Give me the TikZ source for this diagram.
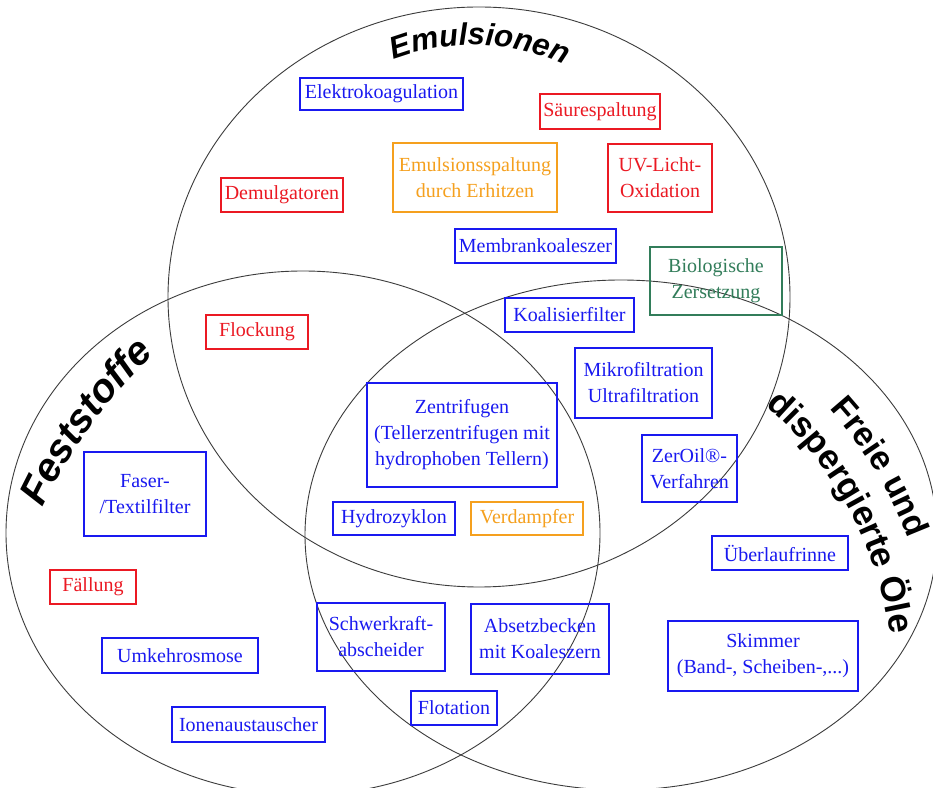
\documentclass[tikz,border=0pt]{standalone}
\usepackage{fontspec}
\setmainfont{Liberation Serif}
\newfontfamily\headfont{Liberation Sans}
\usetikzlibrary{decorations.text,shapes.geometric}

\definecolor{boxblue}{RGB}{25,25,240}
\definecolor{boxred}{RGB}{235,25,35}
\definecolor{boxorange}{RGB}{245,160,30}
\definecolor{boxgreen}{RGB}{50,125,90}
\definecolor{ringgray}{RGB}{60,60,60}

\tikzset{
  method/.style={draw, line width=1.3pt, inner sep=0pt, outer sep=0pt,
    align=center, font=\fontsize{20}{26}\selectfont},
  bluebox/.style={method, draw=boxblue, text=boxblue},
  redbox/.style={method, draw=boxred, text=boxred},
  orangebox/.style={method, draw=boxorange, text=boxorange},
  greenbox/.style={method, draw=boxgreen, text=boxgreen},
  ring/.style={ellipse, draw=ringgray, line width=0.9pt, inner sep=0pt, outer sep=0pt},
  arctext/.style={decorate, decoration={text along path, text align=center, text={#1}}}
}

\begin{document}
\begin{tikzpicture}[x=1pt,y=1pt]
  \useasboundingbox (0,0) rectangle (933,787);
  \fill[white] (0,0) rectangle (933,787);
  \clip (0,0) rectangle (933,787);

  % the three overlapping domains
  \node[ring, minimum width=622pt, minimum height=580pt] (emulsion) at (479,490) {};
  \node[ring, minimum width=594pt, minimum height=524pt] (solids) at (303,254) {};
  \node[ring, minimum width=632pt, minimum height=510pt] (oils) at (621,252) {};

  % curved domain titles
  \path[arctext={|\headfont\bfseries\itshape\fontsize{31}{31}\selectfont|Emulsionen}]
    (472,522) ++(130:220pt) arc[start angle=130, end angle=46, radius=220pt];
  \path[arctext={|\headfont\bfseries\itshape\fontsize{40}{40}\selectfont|Feststoffe}]
    (513,55) ++(170:521pt) arc[start angle=170, end angle=118, radius=521pt];
  \path[arctext={|\headfont\bfseries\fontsize{34}{34}\selectfont|Freie und}]
    (523.5,101.8) ++(55:412pt) arc[start angle=55, end angle=8, radius=412pt];
  \path[arctext={|\headfont\bfseries\fontsize{35}{35}\selectfont|dispergierte Öle}]
    (523.5,101.8) ++(60:370pt) arc[start angle=60, end angle=-3, radius=370pt];

  % separation methods
  \node[bluebox, minimum width=163pt, minimum height=32pt] (elektro) at (381.5,693) {Elektrokoagulation};
  \node[redbox, minimum width=120pt, minimum height=35pt] (saeure) at (600,675.5) {Säurespaltung};
  \node[orangebox, minimum width=164pt, minimum height=69pt] (erhitzen) at (475,609.5) {Emulsionsspaltung\\durch Erhitzen};
  \node[redbox, minimum width=104pt, minimum height=68pt] (uvlicht) at (660,609) {UV-Licht-\\Oxidation};
  \node[redbox, minimum width=122pt, minimum height=34pt] (demulg) at (282,592) {Demulgatoren};
  \node[bluebox, minimum width=161pt, minimum height=34pt] (membran) at (535.5,541) {Membrankoaleszer};
  \node[greenbox, minimum width=132pt, minimum height=68pt] (bio) at (716,506) {Biologische\\Zersetzung};
  \node[bluebox, minimum width=129pt, minimum height=34pt] (koalfilter) at (569.5,472) {Koalisierfilter};
  \node[redbox, minimum width=102pt, minimum height=34pt] (flockung) at (257,455) {Flockung};
  \node[bluebox, minimum width=137pt, minimum height=70pt] (mikro) at (643.5,404) {Mikrofiltration\\Ultrafiltration};
  \node[bluebox, minimum width=190pt, minimum height=104pt] (zentri) at (462,352) {Zentrifugen\\(Tellerzentrifugen mit\\hydrophoben Tellern)};
  \node[bluebox, minimum width=95pt, minimum height=67pt] (zeroil) at (689.5,318.5) {ZerOil®-\\Verfahren};
  \node[bluebox, minimum width=122pt, minimum height=84pt] (faser) at (145,293) {Faser-\\/Textilfilter};
  \node[bluebox, minimum width=122pt, minimum height=33pt] (hydro) at (394,268.5) {Hydrozyklon};
  \node[orangebox, minimum width=112pt, minimum height=33pt] (verdampfer) at (527,268.5) {Verdampfer};
  \node[bluebox, minimum width=136pt, minimum height=34pt] (ueberlauf) at (780,234) {Überlaufrinne};
  \node[redbox, minimum width=86pt, minimum height=34pt] (faellung) at (93,200) {Fällung};
  \node[bluebox, minimum width=128pt, minimum height=68pt] (schwerkraft) at (381,150) {Schwerkraft-\\abscheider};
  \node[bluebox, minimum width=138pt, minimum height=70pt] (absetz) at (540,148) {Absetzbecken\\mit Koaleszern};
  \node[bluebox, minimum width=190pt, minimum height=70pt] (skimmer) at (763,131) {Skimmer\\(Band-, Scheiben-,...)};
  \node[bluebox, minimum width=156pt, minimum height=35pt] (umkehr) at (180,131.5) {Umkehrosmose};
  \node[bluebox, minimum width=86pt, minimum height=34pt] (flotation) at (454,79) {Flotation};
  \node[bluebox, minimum width=153pt, minimum height=35pt] (ionen) at (248.5,62.5) {Ionenaustauscher};
\end{tikzpicture}
\end{document}
